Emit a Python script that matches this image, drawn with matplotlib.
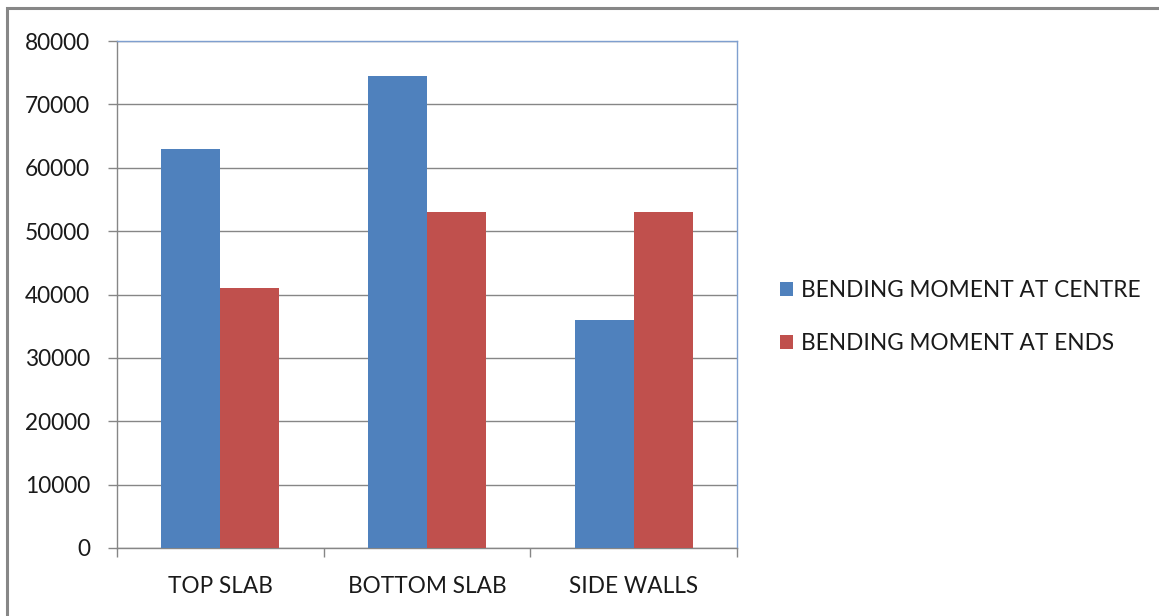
import matplotlib
matplotlib.use("Agg")
import matplotlib.pyplot as plt
from matplotlib.patches import Rectangle
import numpy as np

categories = ["TOP SLAB", "BOTTOM SLAB", "SIDE WALLS"]
moment_centre = [63000, 74500, 36000]
moment_ends = [41000, 53000, 53000]
series_names = ["BENDING MOMENT AT CENTRE", "BENDING MOMENT AT ENDS"]
y_ticks = [0, 10000, 20000, 30000, 40000, 50000, 60000, 70000, 80000]

BLUE = "#4F81BD"
RED = "#C0504D"
GRID = "#868686"
TEXT = "#1a1a1a"

plt.rcParams["font.family"] = ["Lato", "DejaVu Sans"]

W, H = 1159, 616
PX = 72 / 100  # points per pixel at 100 dpi
fig = plt.figure(figsize=(W / 100, H / 100), dpi=100)
fig.patch.set_facecolor("white")

# chart frame
fig.patches.append(Rectangle((7 / W, -0.1), 1.2, (616 - 8) / H + 0.1,
                             transform=fig.transFigure, fill=False,
                             edgecolor="#878787", linewidth=2.2))

ax = fig.add_axes([117 / W, (H - 548) / H, 620 / W, 507 / H])

x = np.arange(len(categories))
bw = 1 / 3.5
ax.bar(x - bw / 2, moment_centre, width=bw, color=BLUE, label=series_names[0], zorder=3)
ax.bar(x + bw / 2, moment_ends, width=bw, color=RED, label=series_names[1], zorder=3)

ax.set_xlim(-0.5, len(categories) - 0.5)
ax.set_ylim(0, 80000)
ax.set_yticks(y_ticks)
ax.set_yticklabels([str(v) for v in y_ticks])
ax.yaxis.grid(True, color=GRID, linewidth=1, zorder=0)
ax.set_axisbelow(True)

ax.set_xticks(x)
ax.set_xticklabels(categories)
ax.set_xticks(np.arange(len(categories) + 1) - 0.5, minor=True)
ax.tick_params(axis="x", which="major", length=0, pad=20.5, labelsize=16.3, colors=TEXT)
ax.tick_params(axis="x", which="minor", length=9 * PX, width=1, color=GRID, direction="out")
ax.tick_params(axis="y", length=9 * PX, width=1, color=GRID, direction="out",
               pad=18 * PX, labelsize=16.3, labelcolor=TEXT)

for side in ("left", "bottom"):
    ax.spines[side].set_color(GRID)
    ax.spines[side].set_linewidth(1)
for side in ("top", "right"):
    ax.spines[side].set_color("#7f9fcf")
    ax.spines[side].set_linewidth(1)

ax.legend(loc="center left", bbox_to_anchor=(780 / W, 1 - 317 / H),
          bbox_transform=fig.transFigure, frameon=False, borderpad=0,
          borderaxespad=0, fontsize=16.3, handlelength=0.58, handleheight=0.58,
          handletextpad=0.36, labelspacing=1.43, labelcolor=TEXT)

fig.savefig("out.png", dpi=100, facecolor="white")
